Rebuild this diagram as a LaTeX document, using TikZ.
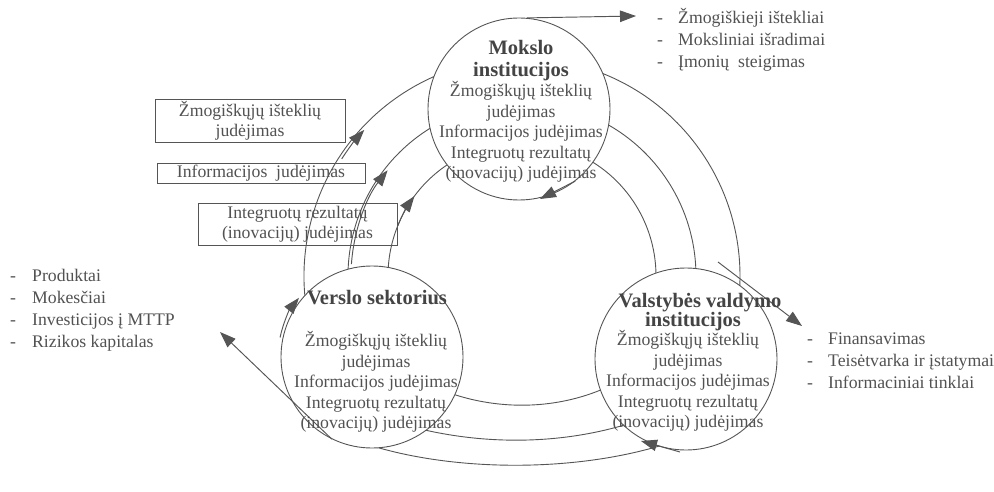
\documentclass[tikz,border=0pt]{standalone}
\usepackage{fontspec}
\setmainfont{Liberation Serif}
\usetikzlibrary{arrows.meta,calc}
\definecolor{lg}{RGB}{85,85,85}
\definecolor{tg}{RGB}{82,82,82}
\definecolor{hg}{RGB}{68,68,68}
\begin{document}
\begin{tikzpicture}[x=1pt,y=-1pt,
  ring/.style={draw=lg, line width=0.9pt},
  bub/.style={circle, draw=lg, fill=white, line width=0.9pt, minimum size=182pt, inner sep=0pt},
  arr/.style={draw=lg, line width=0.95pt, -{Triangle[length=16pt,width=11.5pt]}},
  body/.style={font=\fontsize{17.7}{20.4}\selectfont, text=tg, align=center, inner sep=0pt},
  ttl/.style={font=\fontsize{20.5}{22}\selectfont\bfseries, text=hg, align=center, inner sep=0pt},
  labbox/.style={draw=lg, line width=0.8pt, font=\fontsize{17.7}{20.4}\selectfont, text=tg, align=center, inner sep=0pt},
  lst/.style={font=\fontsize{17.7}{22}\selectfont, text=tg, align=left, inner sep=0pt, anchor=west}]
\useasboundingbox (0,0) rectangle (994,492);
\fill[white] (0,0) rectangle (994,492);
% rings: upper arcs (circle parts)
\coordinate (O) at (522,276);
\draw[ring] (O) ++(150:134) arc[start angle=150, end angle=390, radius=134];
\draw[ring] (O) ++(150:174) arc[start angle=150, end angle=390, radius=174];
\draw[ring] (O) ++(150:218) arc[start angle=150, end angle=390, radius=218];
% rings: lower (flatter) parts between Verslo and Valstybes
\coordinate (iS) at (430,385);  \coordinate (iE) at (625,378);
\coordinate (mS) at (405,425);  \coordinate (mE) at (640,420);
\coordinate (oS) at (360,442);  \coordinate (oE) at (672,442);
\draw[ring] (iS) .. controls (490,413) and (565,413) .. (iE);
\draw[ring] (mS) .. controls (480,446) and (565,446) .. (mE);
\draw[ring] (oS) .. controls (450,473) and (580,473) .. (oE);
% bubbles
\node[bub] (mok) at (519,109) {};
\node[bub] (ver) at (372,357) {};
\node[bub] (val) at (686,359) {};
% arrows along rings
\draw[arr] (O) ++(-147:215) arc[start angle=-147, end angle=-137.2, radius=215];
\draw[arr] (O) ++(-176:171) arc[start angle=-176, end angle=-141.8, radius=171];
\draw[arr] (O) ++(-158:134) arc[start angle=-158, end angle=-143.4, radius=134];
\draw[arr] (ver.center) ++(-168:94) arc[start angle=-168, end angle=-141, radius=94];
% straight arrows
\coordinate (mokE) at (540,199);
\coordinate (valS) at (680,452);
\coordinate (valE) at (641,441);
\coordinate (topE) at (636,16);
\coordinate (rS) at (718,262);
\coordinate (rE) at (802,326);
\coordinate (pE) at (220,332);
\draw[arr] (mok.-52.5) -- (mokE);
\draw[arr] (valS) -- (valE);
\draw[arr] (mok.85) -- (topE);
\draw[arr] (rS) -- (rE);
\draw[arr] (ver.244.8) -- (pE);
% circle texts
\node[ttl] (mokT) at (521,61) {Mokslo\\institucijos};
\node[body] (mokB) at (521,132) {Žmogiškųjų išteklių\\judėjimas\\Informacijos judėjimas\\Integruotų rezultatų\\(inovacijų) judėjimas};
\node[ttl] (verT) at (377,298) {Verslo sektorius};
\node[body] (verB) at (376,382) {Žmogiškųjų išteklių\\judėjimas\\Informacijos judėjimas\\Integruotų rezultatų\\(inovacijų) judėjimas};
\node[ttl] (valT1) at (700,303) {Valstybės valdymo};
\node[ttl] (valT2) at (693,322) {institucijos};
\node[body] (valB) at (688,381) {Žmogiškųjų išteklių\\judėjimas\\Informacijos judėjimas\\Integruotų rezultatų\\(inovacijų) judėjimas};
% label boxes
\node[labbox, minimum width=190pt, minimum height=43pt] (b1) at (250,120.5) {Žmogiškųjų išteklių\\judėjimas};
\node[labbox, minimum width=208pt, minimum height=20pt] (b2) at (261,173) {Informacijos\ \ judėjimas};
\node[labbox, minimum width=199pt, minimum height=42pt] (b3) at (297.5,224) {Integruotų rezultatų\\(inovacijų) judėjimas};
% lists
\node[lst] (l1) at (657,40) {\makebox[21pt][l]{-}Žmogiškieji ištekliai\\\makebox[21pt][l]{-}Moksliniai išradimai\\\makebox[21pt][l]{-}Įmonių\ \ steigimas};
\node[lst] (l2) at (10,310) {\makebox[22pt][l]{-}Produktai\\\makebox[22pt][l]{-}Mokesčiai\\\makebox[22pt][l]{-}Investicijos į MTTP\\\makebox[22pt][l]{-}Rizikos kapitalas};
\node[lst] (l3) at (807,361) {\makebox[21pt][l]{-}Finansavimas\\\makebox[21pt][l]{-}Teisėtvarka ir įstatymai\\\makebox[21pt][l]{-}Informaciniai tinklai};
\end{tikzpicture}
\end{document}
